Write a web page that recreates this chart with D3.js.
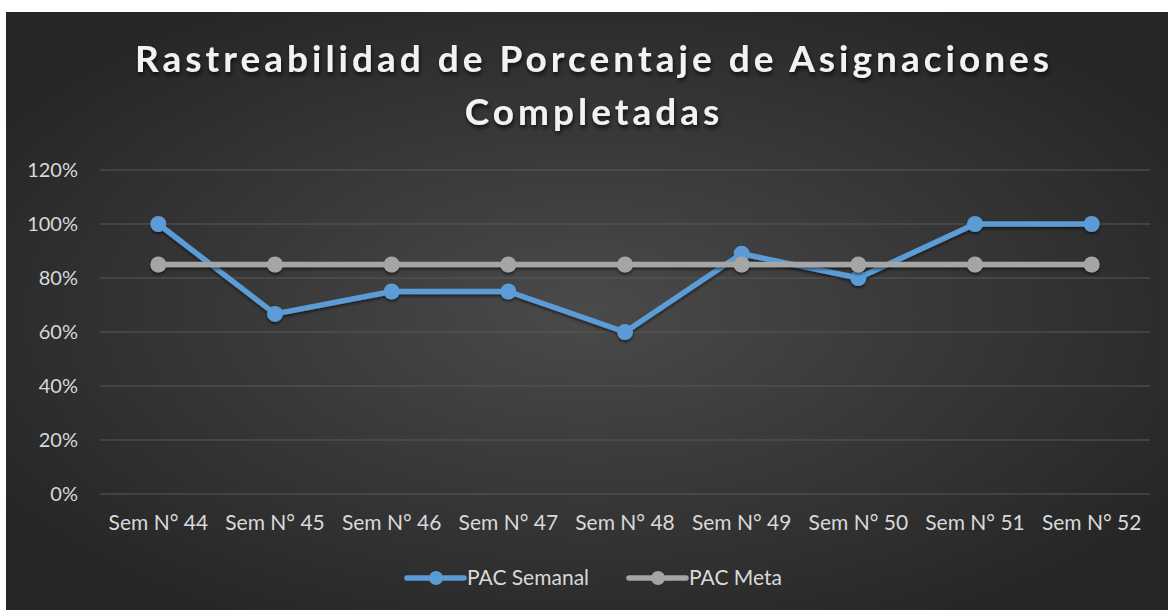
<html>
<head>
<style>
  body { margin: 0; background: #fff; }
  text { font-family: Lato, "Open Sans", sans-serif; }
</style>
</head>
<body>
<div id="chart"></div>
<script src="https://cdn.jsdelivr.net/npm/d3@7"></script>
<script>
var width = 1168, height = 610;

var weeks = ["Sem N° 44", "Sem N° 45", "Sem N° 46", "Sem N° 47", "Sem N° 48", "Sem N° 49", "Sem N° 50", "Sem N° 51", "Sem N° 52"];
var semanal = [1.00, 0.667, 0.75, 0.75, 0.60, 0.89, 0.80, 1.00, 1.00];
var meta = [0.85, 0.85, 0.85, 0.85, 0.85, 0.85, 0.85, 0.85, 0.85];
var yTicks = [0, 0.2, 0.4, 0.6, 0.8, 1.0, 1.2];
var titleLines = ["Rastreabilidad de Porcentaje de Asignaciones", "Completadas"];

var blue = "#5b9bd5", gray = "#a5a5a5";

var svg = d3.select("#chart").append("svg")
  .attr("width", width).attr("height", height);

var defs = svg.append("defs");
var bg = defs.append("radialGradient").attr("id", "bg")
  .attr("cx", "50%").attr("cy", "50%").attr("r", "60%");
bg.append("stop").attr("offset", "0%").attr("stop-color", "#4a4a4a");
bg.append("stop").attr("offset", "100%").attr("stop-color", "#262626");

var sh = defs.append("filter").attr("id", "shadow")
  .attr("x", "-20%").attr("y", "-20%").attr("width", "140%").attr("height", "160%");
sh.append("feDropShadow").attr("dx", 0).attr("dy", 2).attr("stdDeviation", 1.5)
  .attr("flood-color", "#000").attr("flood-opacity", 0.55);

var tsh = defs.append("filter").attr("id", "tshadow")
  .attr("x", "-5%").attr("y", "-30%").attr("width", "110%").attr("height", "160%");
tsh.append("feDropShadow").attr("dx", 1).attr("dy", 3).attr("stdDeviation", 2)
  .attr("flood-color", "#000").attr("flood-opacity", 0.7);

svg.append("rect").attr("x", 6).attr("y", 12)
  .attr("width", width - 6).attr("height", height - 12)
  .attr("fill", "url(#bg)");

// title
svg.append("g").attr("filter", "url(#tshadow)")
  .selectAll("text").data(titleLines).join("text")
  .attr("x", 594).attr("y", (d, i) => 72 + i * 53)
  .attr("text-anchor", "middle")
  .attr("fill", "#f2f2f2")
  .style("font-size", "37px").style("font-weight", "bold")
  .style("letter-spacing", "4px")
  .text(d => d);

var x = d3.scaleBand().domain(weeks).range([100, 1150]);
var y = d3.scaleLinear().domain([0, 1.2]).range([494, 170]);

// grid
svg.append("g").selectAll("line").data(yTicks).join("line")
  .attr("x1", 100).attr("x2", 1150)
  .attr("y1", d => y(d)).attr("y2", d => y(d))
  .attr("stroke", "#595959").attr("stroke-width", 1.2);

// y axis
var yAxis = svg.append("g").attr("transform", "translate(86,0)")
  .call(d3.axisLeft(y).tickValues(yTicks).tickFormat(d3.format(".0%")).tickSize(0).tickPadding(8));
yAxis.select(".domain").remove();
yAxis.selectAll("text").attr("fill", "#d9d9d9").style("font-size", "20px")
  .attr("font-family", null);

// x axis
var xAxis = svg.append("g").attr("transform", "translate(0,509)")
  .call(d3.axisBottom(x).tickSize(0).tickPadding(6));
xAxis.select(".domain").remove();
xAxis.selectAll("text").attr("fill", "#d9d9d9").style("font-size", "21px")
  .attr("font-family", null);

var cx = d => x(d) + x.bandwidth() / 2;
var line = d3.line().x((d, i) => cx(weeks[i])).y(d => y(d));

function series(vals, color) {
  var g = svg.append("g").attr("filter", "url(#shadow)");
  g.append("path").datum(vals).attr("d", line)
    .attr("fill", "none").attr("stroke", color)
    .attr("stroke-width", 5.5).attr("stroke-linejoin", "round");
  g.selectAll("circle").data(vals).join("circle")
    .attr("cx", (d, i) => cx(weeks[i])).attr("cy", d => y(d))
    .attr("r", 8).attr("fill", color);
}
series(semanal, blue);
series(meta, gray);

// legend
var legend = [{name: "PAC Semanal", color: blue, x: 407}, {name: "PAC Meta", color: gray, x: 629}];
var lg = svg.append("g").selectAll("g").data(legend).join("g")
  .attr("transform", d => "translate(" + d.x + ",578)");
lg.append("line").attr("x1", 0).attr("x2", 57).attr("y1", 0).attr("y2", 0)
  .attr("stroke", d => d.color).attr("stroke-width", 5.5).attr("stroke-linecap", "round");
lg.append("circle").attr("cx", 29).attr("r", 7).attr("fill", d => d.color);
lg.append("text").attr("x", 60).attr("dy", "0.35em")
  .attr("fill", "#d9d9d9").style("font-size", "21px").text(d => d.name);
</script>
</body>
</html>
